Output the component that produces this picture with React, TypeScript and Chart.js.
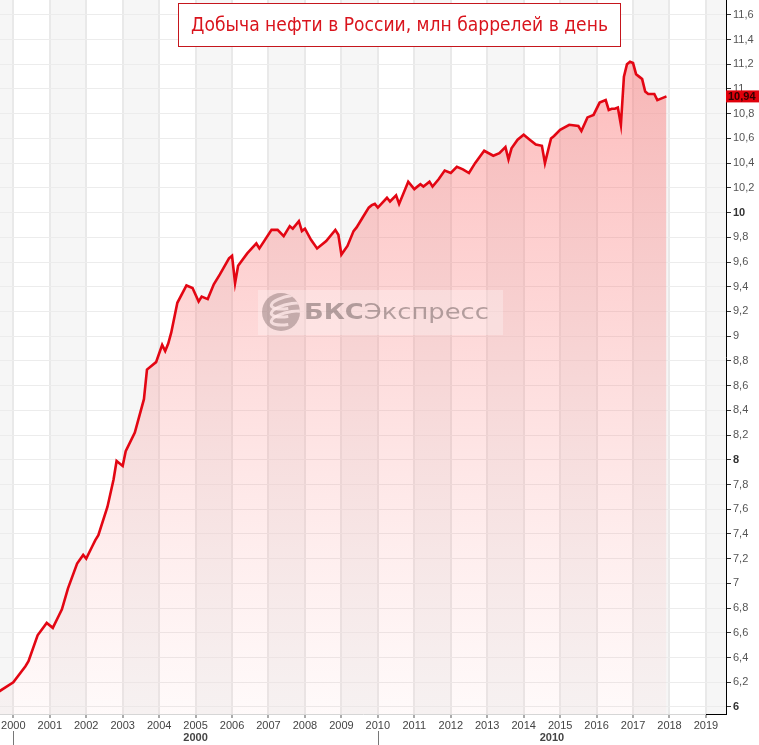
import React, { useEffect, useRef } from "react";
import { Chart, registerables } from "chart.js";

Chart.register(...registerables);

// ---- data (monthly readings, million barrels per day) ----
const months = [
  "1999-08", "2000-01", "2000-05", "2000-06", "2000-09", "2000-12",
  "2001-02", "2001-04", "2001-05", "2001-07", "2001-10", "2001-12",
  "2002-01", "2002-03", "2002-04", "2002-05", "2002-08", "2002-10", "2002-11",
  "2003-01", "2003-02", "2003-05", "2003-08", "2003-09", "2003-12",
  "2004-02", "2004-03", "2004-04", "2004-05", "2004-07", "2004-10", "2004-12",
  "2005-02", "2005-03", "2005-05", "2005-07", "2005-09", "2005-12",
  "2006-01", "2006-02", "2006-03", "2006-06", "2006-09", "2006-10",
  "2007-02", "2007-04", "2007-06", "2007-08", "2007-09", "2007-11", "2007-12",
  "2008-01", "2008-03", "2008-05", "2008-08", "2008-11", "2008-12",
  "2009-01", "2009-03", "2009-05", "2009-06", "2009-08", "2009-10", "2009-11", "2009-12",
  "2010-01", "2010-04", "2010-05", "2010-07", "2010-08", "2010-11",
  "2011-01", "2011-03", "2011-04", "2011-06", "2011-07", "2011-09", "2011-11",
  "2012-01", "2012-03", "2012-05", "2012-07", "2012-09", "2012-12",
  "2013-03", "2013-05", "2013-07", "2013-08", "2013-09", "2013-11",
  "2014-01", "2014-03", "2014-05", "2014-07", "2014-08", "2014-10", "2014-11",
  "2015-01", "2015-04", "2015-07", "2015-08", "2015-10", "2015-12",
  "2016-02", "2016-04", "2016-05", "2016-06", "2016-07", "2016-08", "2016-09",
  "2016-10", "2016-11", "2016-12",
  "2017-01", "2017-02", "2017-03", "2017-04", "2017-05", "2017-06", "2017-08",
  "2017-09", "2017-10", "2017-11", "2017-12",
];

const production = [
  6.12, 6.20, 6.33, 6.37, 6.58, 6.68,
  6.64, 6.74, 6.79, 6.96, 7.16, 7.23,
  7.20, 7.30, 7.35, 7.39, 7.62, 7.84, 7.99,
  7.95, 8.07, 8.22, 8.49, 8.73, 8.79,
  8.93, 8.88, 8.94, 9.03, 9.27, 9.41, 9.39,
  9.28, 9.32, 9.30, 9.42, 9.50, 9.63,
  9.65, 9.43, 9.57, 9.67, 9.75, 9.71,
  9.86, 9.86, 9.81, 9.89, 9.87, 9.93, 9.85,
  9.87, 9.78, 9.71, 9.77, 9.86, 9.82,
  9.66, 9.73, 9.85, 9.88, 9.96, 10.04, 10.06, 10.07,
  10.04, 10.12, 10.09, 10.14, 10.07, 10.25,
  10.19, 10.23, 10.21, 10.25, 10.21, 10.27, 10.34,
  10.32, 10.37, 10.35, 10.32, 10.40, 10.50,
  10.46, 10.48, 10.53, 10.43, 10.52, 10.59,
  10.63, 10.59, 10.55, 10.54, 10.40, 10.60, 10.62,
  10.67, 10.71, 10.70, 10.66, 10.77, 10.79,
  10.89, 10.91, 10.83, 10.84, 10.84, 10.85, 10.71,
  11.10, 11.20, 11.22,
  11.21, 11.12, 11.10, 11.08, 10.98, 10.96, 10.96,
  10.91, 10.92, 10.93, 10.94,
];

const yearTicks = [
  2000, 2001, 2002, 2003, 2004, 2005, 2006, 2007, 2008, 2009,
  2010, 2011, 2012, 2013, 2014, 2015, 2016, 2017, 2018, 2019,
];

const valueTicks = [
  6, 6.2, 6.4, 6.6, 6.8, 7, 7.2, 7.4, 7.6, 7.8, 8, 8.2, 8.4, 8.6, 8.8,
  9, 9.2, 9.4, 9.6, 9.8, 10, 10.2, 10.4, 10.6, 10.8, 11, 11.2, 11.4, 11.6,
];

const boldTicks = [6, 8, 10];
const decadeLabels = ["2000", "2010"];
const decadeStarts = [2000, 2010];

const titleText = "Добыча нефти в России, млн баррелей в день";
const brandBold = "БКС";
const brandRest = "Экспресс";

const X_MIN = 1999.635;
const X_MAX = 2019.55;
const Y_MIN = 5.943;
const Y_MAX = 11.72;

const FONT = '"Liberation Sans", Arial, sans-serif';

function toYear(m: string): number {
  const [y, mo] = m.split("-").map(Number);
  return y + (mo - 1) / 12;
}

function fmt(v: number): string {
  return (Math.round(v * 100) / 100).toString().replace(".", ",");
}

const bandsPlugin = {
  id: "bands",
  beforeDraw(chart: any) {
    const { ctx, chartArea, scales } = chart;
    const xs = scales.x;
    ctx.save();
    ctx.fillStyle = "#ffffff";
    ctx.fillRect(0, 0, chart.width, chart.height);
    ctx.fillStyle = "#f6f6f6";
    for (let y = Math.floor(X_MIN); y <= Math.ceil(X_MAX); y++) {
      if (Math.abs(y % 2) !== 1) continue;
      const a = Math.max(chartArea.left, xs.getPixelForValue(y));
      const b = Math.min(chartArea.right, xs.getPixelForValue(y + 1));
      if (b > a) ctx.fillRect(a, chartArea.top, b - a, chartArea.bottom - chartArea.top);
    }
    ctx.restore();
  },
};

const overlayPlugin = {
  id: "overlay",
  afterDraw(chart: any) {
    const { ctx, chartArea, scales } = chart;
    const xs = scales.x;
    const ys = scales.y;
    ctx.save();

    // black corner segment of the bottom border (future zone)
    ctx.strokeStyle = "#000";
    ctx.lineWidth = 1;
    ctx.beginPath();
    const px19 = Math.round(xs.getPixelForValue(2019));
    ctx.moveTo(px19, Math.round(chartArea.bottom) + 0.5);
    ctx.lineTo(chartArea.right, Math.round(chartArea.bottom) + 0.5);
    ctx.stroke();

    // decade row
    for (let i = 0; i < decadeStarts.length; i++) {
      const a = xs.getPixelForValue(decadeStarts[i]);
      const b = i + 1 < decadeStarts.length ? xs.getPixelForValue(decadeStarts[i + 1]) : chartArea.right;
      ctx.strokeStyle = "#777";
      ctx.beginPath();
      ctx.moveTo(Math.round(a) + 0.5, 731);
      ctx.lineTo(Math.round(a) + 0.5, 745);
      ctx.stroke();
      ctx.fillStyle = "#444";
      ctx.font = `bold 11px ${FONT}`;
      ctx.textAlign = "center";
      ctx.textBaseline = "middle";
      ctx.fillText(decadeLabels[i], (a + b) / 2, 738);
    }

    // watermark
    ctx.fillStyle = "rgba(255,255,255,0.28)";
    ctx.fillRect(258, 290, 245, 45);
    const cx = 281, cy = 312, r = 19;
    ctx.beginPath();
    ctx.arc(cx, cy, r, 0, Math.PI * 2);
    ctx.fillStyle = "rgba(125,100,100,0.42)";
    ctx.fill();
    ctx.save();
    ctx.beginPath();
    ctx.arc(cx, cy, r, 0, Math.PI * 2);
    ctx.clip();
    ctx.strokeStyle = "rgba(255,232,232,0.8)";
    ctx.lineWidth = 3;
    for (const dy of [-10, -2, 6]) {
      ctx.beginPath();
      ctx.ellipse(cx + 9, cy + dy, 19, 6, -0.2, Math.PI * 0.55, Math.PI * 1.95);
      ctx.stroke();
    }
    ctx.restore();
    ctx.fillStyle = "rgba(105,90,90,0.5)";
    ctx.textAlign = "left";
    ctx.textBaseline = "alphabetic";
    ctx.font = `bold 21px "DejaVu Sans", sans-serif`;
    const w1 = ctx.measureText(brandBold).width;
    ctx.font = `21px "DejaVu Sans", sans-serif`;
    const w2 = ctx.measureText(brandRest).width;
    const sx = 185 / (w1 + w2);
    ctx.save();
    ctx.translate(304, 319);
    ctx.scale(sx, 1);
    ctx.font = `bold 21px "DejaVu Sans", sans-serif`;
    ctx.fillText(brandBold, 0, 0);
    ctx.font = `21px "DejaVu Sans", sans-serif`;
    ctx.fillText(brandRest, w1, 0);
    ctx.restore();

    // title box
    ctx.fillStyle = "#ffffff";
    ctx.fillRect(178.5, 3.5, 442, 43);
    ctx.strokeStyle = "#c5161d";
    ctx.lineWidth = 1;
    ctx.strokeRect(178.5, 3.5, 442, 43);
    ctx.font = `19px "DejaVu Sans", sans-serif`;
    const tw = ctx.measureText(titleText).width;
    ctx.save();
    ctx.translate(399.5, 31);
    ctx.scale(417 / tw, 1);
    ctx.fillStyle = "#d9141d";
    ctx.textAlign = "center";
    ctx.textBaseline = "alphabetic";
    ctx.fillText(titleText, 0, 0);
    ctx.restore();

    // last value label
    const last = production[production.length - 1];
    const py = ys.getPixelForValue(last);
    ctx.fillStyle = "#e0000b";
    ctx.fillRect(chartArea.right, py - 6, chart.width - chartArea.right, 12);
    ctx.fillStyle = "#300000";
    ctx.font = `bold 11px ${FONT}`;
    ctx.textAlign = "left";
    ctx.textBaseline = "middle";
    ctx.fillText(fmt(last), chartArea.right + 2, py + 0.5);

    ctx.restore();
  },
};

export default function App() {
  const ref = useRef<HTMLCanvasElement | null>(null);

  useEffect(() => {
    if (!ref.current) return;
    const points = months.map((m, i) => ({ x: toYear(m), y: production[i] }));
    const chart = new Chart(ref.current, {
      type: "line",
      data: {
        datasets: [
          {
            data: points,
            borderColor: "#e30613",
            borderWidth: 2.6,
            pointRadius: 0,
            tension: 0,
            fill: "start",
            backgroundColor: (c: any) => {
              const { chart: ch } = c;
              const area = ch.chartArea;
              if (!area) return "rgba(245,150,150,0.3)";
              const g = ch.ctx.createLinearGradient(0, area.top, 0, area.bottom);
              g.addColorStop(0, "rgba(250,90,90,0.45)");
              g.addColorStop(0.45, "rgba(250,110,110,0.27)");
              g.addColorStop(1, "rgba(250,150,150,0.05)");
              return g;
            },
          },
        ],
      },
      options: {
        responsive: false,
        animation: false,
        events: [],
        layout: { padding: 0 },
        plugins: { legend: { display: false }, tooltip: { enabled: false } },
        scales: {
          x: {
            type: "linear",
            position: "bottom",
            min: X_MIN,
            max: X_MAX,
            afterBuildTicks: (s: any) => {
              s.ticks = yearTicks.map((v) => ({ value: v }));
            },
            afterFit: (s: any) => {
              s.height = 31;
              s.paddingLeft = 0;
              s.paddingRight = 0;
            },
            grid: {
              color: "#e9e9e9",
              lineWidth: 2,
              tickColor: "#aaa",
              tickLength: 4,
              drawTicks: true,
            },
            border: { color: "#d6d6d6", width: 1 },
            ticks: {
              autoSkip: false,
              maxRotation: 0,
              padding: 1,
              color: "#444",
              font: { family: FONT, size: 11 },
              callback: (v: any) => String(v),
            },
          },
          y: {
            type: "linear",
            position: "right",
            min: Y_MIN,
            max: Y_MAX,
            afterBuildTicks: (s: any) => {
              s.ticks = valueTicks.map((v) => ({ value: v }));
            },
            afterFit: (s: any) => {
              s.width = 33;
              s.paddingTop = 0;
              s.paddingBottom = 0;
            },
            grid: {
              color: "#ececec",
              lineWidth: 1,
              tickColor: "#333",
              tickLength: 5,
            },
            border: { color: "#000", width: 1 },
            ticks: {
              autoSkip: false,
              padding: 2,
              color: (c: any) => (boldTicks.includes(c.tick?.value) ? "#333" : "#555"),
              font: (c: any) => ({
                family: FONT,
                size: 11,
                weight: boldTicks.includes(c.tick?.value) ? "bold" : "normal",
              }),
              callback: (v: any) => fmt(Number(v)),
            },
          },
        },
      },
      plugins: [bandsPlugin, overlayPlugin],
    } as any);
    return () => chart.destroy();
  }, []);

  return (
    <div style={{ position: "absolute", left: 0, top: 0, width: 759, height: 745, background: "#fff" }}>
      <canvas ref={ref} width={759} height={745} style={{ width: 759, height: 745, display: "block" }} />
    </div>
  );
}
